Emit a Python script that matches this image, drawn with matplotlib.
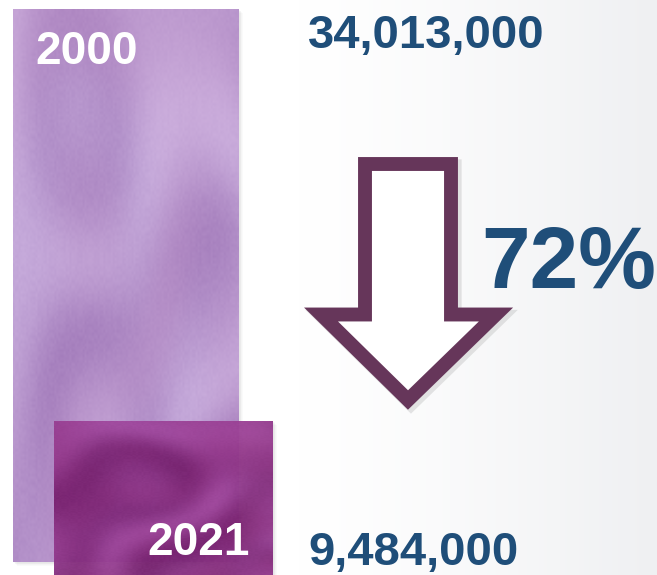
import numpy as np
import matplotlib.pyplot as plt
from matplotlib.colors import LinearSegmentedColormap
from matplotlib.patches import Polygon

# data
years = ['2000', '2021']
values = [34013000, 9484000]
pct_drop = 1 - values[1] / values[0]

bar_x = [126, 163.5]          # bar centres (px)
bar_w = [226, 219]            # bar widths (px)
px_per_unit = 553 / values[0]  # vertical scale
bottoms_px = [13, 0]

blue = '#1f4e79'
arrow_col = '#66365a'

plt.rcParams['font.family'] = ['Liberation Sans', 'DejaVu Sans']

fig = plt.figure(figsize=(6.57, 5.75), dpi=100)

# background: white fading to light grey on the right
bg = fig.add_axes([0, 0, 1, 1])
gx = np.linspace(0, 1, 300)
grad = np.clip((gx - 0.45) / 0.55, 0, 1) ** 1.3
bg.imshow(grad[None, :], cmap=LinearSegmentedColormap.from_list('bg', ['#ffffff', '#eff0f2']),
          aspect='auto', extent=[0, 1, 0, 1], vmin=0, vmax=1)
bg.axis('off')

# bars: x in px, y in data units
ax = fig.add_axes([0, 0, 1, 1])
ax.set_xlim(0, 657)
ax.set_ylim(0, 575 / px_per_unit)
ax.axis('off')


def marble(h, w, k):
    y, x = np.mgrid[0:1:h * 1j, 0:1:w * 1j]
    # swirly low-frequency field
    t = 3 * x + 2.2 * np.sin(3 * y + 4 * x + k) + 1.1 * np.sin(7 * x - 6 * y + 2 * k)
    v = 0.5 + 0.5 * np.sin(t + 1.6 * np.sin(5 * y + 3 * x * y + k))
    v2 = 0.5 + 0.5 * np.sin(11 * x * y + 6 * y - 2 * x + k)
    grain = 0.5 + 0.5 * np.sin(310 * x + 40 * np.sin(60 * y)) * np.sin(270 * y + 30 * np.sin(50 * x))
    return np.clip(0.55 * v + 0.3 * v2 + 0.15 * grain, 0, 1)


styles = [
    (np.array([160, 122, 186]) / 255, np.array([208, 184, 228]) / 255,
     np.array([190, 140, 195]) / 255, 1.0),
    (np.array([112, 28, 106]) / 255, np.array([165, 78, 165]) / 255,
     np.array([145, 40, 120]) / 255, 0.95),
]

for i, (yr, val) in enumerate(zip(years, values)):
    x0 = bar_x[i] - bar_w[i] / 2
    y0 = bottoms_px[i] / px_per_unit
    # soft shadow
    for s in range(1, 6):
        ax.bar(bar_x[i] + s * 0.8, val, width=bar_w[i], bottom=y0 - s * 0.8 / px_per_unit,
               color='grey', alpha=0.04, zorder=1 + 2 * i)
    b = ax.bar(bar_x[i], val, width=bar_w[i], bottom=y0, color='none', zorder=2 + 2 * i)[0]
    c1, c2, c3, a = styles[i]
    m = marble(200, 120, 1.7 * i + 0.3)
    tint = marble(200, 120, 4.1 * i + 2.2)[..., None]
    img = c1 + m[..., None] * (c2 - c1)
    img = img * (1 - 0.3 * tint) + c3 * 0.3 * tint
    im = ax.imshow(np.clip(img, 0, 1), extent=[x0, x0 + bar_w[i], y0, y0 + val], aspect='auto',
                   alpha=a, zorder=2 + 2 * i, interpolation='bilinear')
    im.set_clip_path(b)

# overlay in pixel coords for text and arrow
ov = fig.add_axes([0, 0, 1, 1])
ov.set_xlim(0, 657)
ov.set_ylim(575, 0)
ov.axis('off')

ov.text(35, 64, years[0], color='white', fontsize=33, fontweight='bold', va='baseline')
ov.text(147, 555, years[1], color='white', fontsize=33, fontweight='bold', va='baseline', zorder=10)
ov.text(308, 48, f'{values[0]:,}', color=blue, fontsize=34, fontweight='bold', va='baseline')
ov.text(308, 565, f'{values[1]:,}', color=blue, fontsize=34, fontweight='bold', va='baseline')
ov.text(481, 288, f'{pct_drop:.0%}', color=blue, fontsize=63, fontweight='bold', va='baseline')

arrow = np.array([[365, 164], [451, 164], [451, 314.5], [496, 314.5],
                  [408, 400], [321, 314.5], [365, 314.5]])
ov.add_patch(Polygon(arrow + [3, 3], closed=True, fc='none', ec='grey', lw=11,
                     alpha=0.2, joinstyle='miter'))
ov.add_patch(Polygon(arrow, closed=True, fc='white', ec=arrow_col, lw=10, joinstyle='miter'))

fig.savefig('out.png', dpi=100)
